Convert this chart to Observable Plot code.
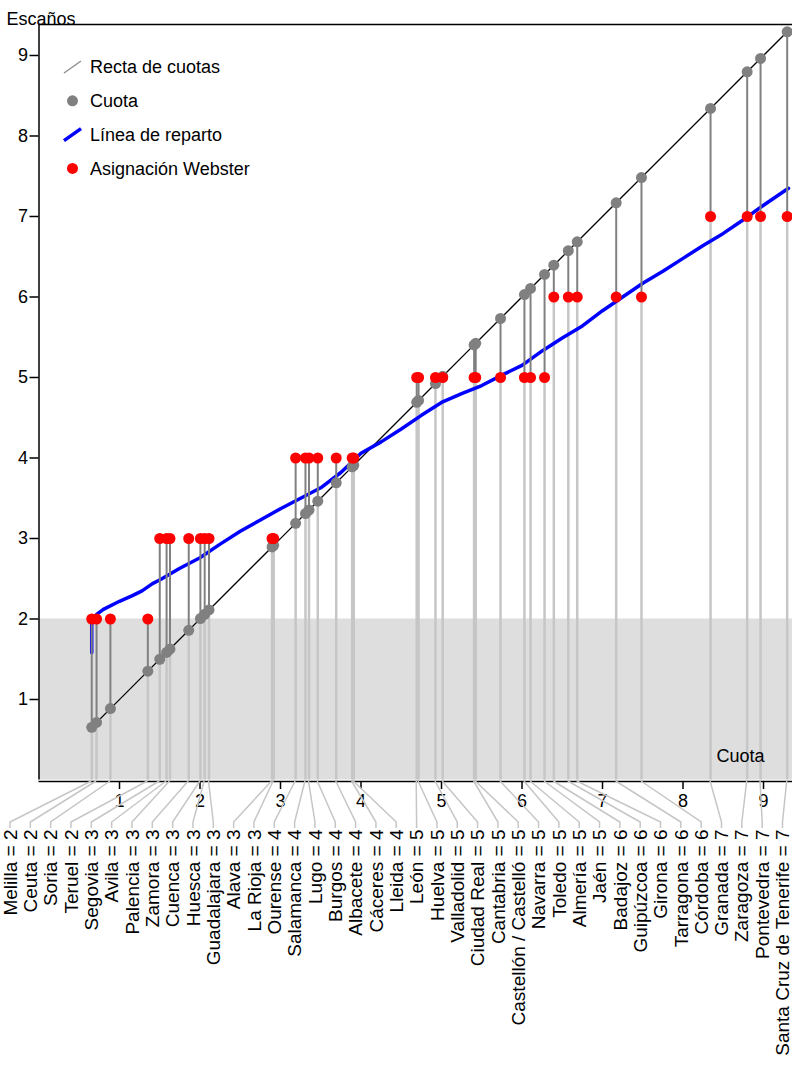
<!DOCTYPE html>
<html><head><meta charset="utf-8">
<script src="https://cdn.jsdelivr.net/npm/d3@7"></script>
<script src="https://cdn.jsdelivr.net/npm/@observablehq/plot@0.6"></script>
<style>
body{margin:0;background:#fff;}
svg{font-family:"Liberation Sans",Arial,sans-serif;}
</style></head><body><div id="chart"></div>
<script>
// ---- data ----
const provincias = ["Melilla","Ceuta","Soria","Teruel","Segovia","Avila","Palencia","Zamora","Cuenca","Huesca","Guadalajara","Alava","La Rioja","Ourense","Salamanca","Lugo","Burgos","Albacete","Cáceres","Lleida","León","Huelva","Valladolid","Ciudad Real","Cantabria","Castellón / Castelló","Navarra","Toledo","Almería","Jaén","Badajoz","Guipúzcoa","Girona","Tarragona","Córdoba","Granada","Zaragoza","Pontevedra","Santa Cruz de Tenerife"];
const escanos = [2,2,2,2,3,3,3,3,3,3,3,3,3,4,4,4,4,4,4,4,5,5,5,5,5,5,5,5,5,5,6,6,6,6,6,7,7,7,7];
const cuotas = [0.655,0.715,0.887,1.352,1.50,1.585,1.627,1.86,2.005,2.058,2.112,2.895,2.915,3.188,3.31,3.354,3.463,3.692,3.89,3.91,4.692,4.715,4.925,5.015,5.405,5.425,5.733,6.03,6.106,6.28,6.395,6.575,6.686,7.17,7.484,8.342,8.797,8.963,9.294];
const repartoCuota = [0.655,0.655,0.72,0.80,1.0,1.16,1.28,1.41,1.51,1.75,2.0,2.25,2.5,2.75,3.0,3.25,3.5,3.75,4.0,4.25,4.5,4.75,5.0,5.25,5.5,5.75,6.0,6.25,6.5,6.75,7.0,7.25,7.5,7.75,8.0,8.25,8.5,8.75,9.0,9.31];
const repartoEscanos = [1.58,2.0,2.06,2.12,2.22,2.29,2.35,2.44,2.49,2.63,2.76,2.93,3.09,3.23,3.37,3.50,3.63,3.82,4.06,4.20,4.36,4.53,4.69,4.80,4.90,5.03,5.15,5.33,5.49,5.64,5.83,6.0,6.17,6.32,6.48,6.64,6.79,6.96,7.14,7.35];
const ticks = [1,2,3,4,5,6,7,8,9];
const minimoEscanos = 2;
const limitesX = [0, 9.36];
const limitesY = [0, 9.385];
const leyenda = ["Recta de cuotas","Cuota","Línea de reparto","Asignación Webster"];
const etiquetaX = "Cuota";
const etiquetaY = "Escaños";

// ---- tables built from the arrays ----
const datos = provincias.map((p,i)=>({p, s:escanos[i], q:cuotas[i], label:`${p} = ${escanos[i]}`}));
const reparto = repartoCuota.map((x,i)=>({x, y:repartoEscanos[i]}));

const FS = 18;
const GRIS = "#808080", GRIS_CLARO = "#c6c6c6", AZUL = "#0000ff", ROJO = "#ff0000";

function conectores(index, scales, values, dim) {
  const g = d3.create("svg:g");
  const n = datos.length;
  const xa = 10, xb = dim.width - 9.5;
  const yAxis = dim.height - dim.marginBottom + 1.5;
  datos.forEach((d,i)=>{
    const lx = xa + i*(xb-xa)/(n-1);
    const px = scales.x(d.q);
    g.append("polyline")
      .attr("points", `${px},${yAxis} ${lx},${yAxis+41} ${lx},${yAxis+47}`)
      .attr("fill","none").attr("stroke",GRIS_CLARO).attr("stroke-width",1.5);
    g.append("text")
      .attr("transform", `translate(${lx},${yAxis+48.5}) rotate(-90)`)
      .attr("text-anchor","end").attr("dy","0.35em")
      .attr("font-size", 19).attr("fill","#000")
      .text(d.label);
  });
  return g.node();
}

function dibujaLeyenda(index, scales, values, dim) {
  const g = d3.create("svg:g");
  const x0 = scales.x(limitesX[0]);
  const y0 = scales.y(limitesY[1]) + 43;
  const paso = 33.8;
  const sx = x0 + 34, tx = x0 + 51.5;
  leyenda.forEach((t,i)=>{
    const y = y0 + i*paso;
    if (i===0) g.append("line").attr("x1",sx-8.5).attr("y1",y+6).attr("x2",sx+8.5).attr("y2",y-6).attr("stroke","#909090").attr("stroke-width",1.5);
    if (i===1) g.append("circle").attr("cx",sx).attr("cy",y).attr("r",5.5).attr("fill",GRIS);
    if (i===2) g.append("line").attr("x1",sx-8.5).attr("y1",y+6).attr("x2",sx+8.5).attr("y2",y-6).attr("stroke",AZUL).attr("stroke-width",3.5);
    if (i===3) g.append("circle").attr("cx",sx).attr("cy",y).attr("r",5.5).attr("fill",ROJO);
    g.append("text").attr("x",tx).attr("y",y).attr("dy","0.35em").attr("text-anchor","start")
      .attr("font-size",FS).attr("fill","#000").text(t);
  });
  return g.node();
}

const chart = Plot.plot({
  width: 792, height: 1068,
  marginLeft: 38.5, marginTop: 24, marginBottom: 288.5, marginRight: 0,
  style: {fontFamily: "'Liberation Sans', Arial, sans-serif", fontSize: FS+"px", background: "#fff", overflow: "visible"},
  x: {domain: limitesX},
  y: {domain: limitesY},
  marks: [
    Plot.rect([minimoEscanos], {x1: () => limitesX[0], x2: () => limitesX[1], y1: () => 0, y2: d => d, fill: "#dedede"}),
    Plot.ruleX(datos, {x: "q", y1: () => 0, y2: d => Math.min(d.q, d.s), stroke: GRIS_CLARO, strokeWidth: 2.5}),
    Plot.line(datos, {x: "q", y: "q", stroke: "#000", strokeWidth: 1.3}),
    Plot.line(reparto, {x: "x", y: "y", stroke: AZUL, strokeWidth: 3.5}),
    Plot.ruleX(datos, {x: "q", y1: "q", y2: "s", stroke: GRIS, strokeWidth: 2}),
    Plot.dot(datos, {x: "q", y: "q", r: 5.5, fill: GRIS}),
    Plot.dot(datos, {x: "q", y: "s", r: 5.5, fill: ROJO}),
    Plot.ruleY([limitesY[1]], {stroke: "#000", strokeWidth: 1.5}),
    Plot.ruleX([limitesX[0]], {stroke: "#000", strokeWidth: 1.5}),
    Plot.ruleY([limitesY[0]], {stroke: "#000", strokeWidth: 1.5, dy: 1.5}),
    Plot.axisY(ticks, {tickSize: 9, tickPadding: 2, fontSize: FS, label: null, strokeWidth: 1.5, tickFormat: d3.format("d")}),
    Plot.axisX(ticks, {tickSize: 8, tickPadding: 5, fontSize: FS, label: null, strokeWidth: 1.5, dy: 1.5, tickFormat: d3.format("d")}),
    Plot.text([etiquetaY], {frameAnchor: "top-left", text: d => d, dx: -32.5, dy: -12, textAnchor: "start", fontSize: FS}),
    Plot.text([etiquetaX], {frameAnchor: "bottom-right", text: d => d, dx: -28, dy: -18.5, textAnchor: "end", fontSize: FS}),
    conectores,
    dibujaLeyenda
  ]
});
document.getElementById("chart").appendChild(chart);
</script></body></html>
